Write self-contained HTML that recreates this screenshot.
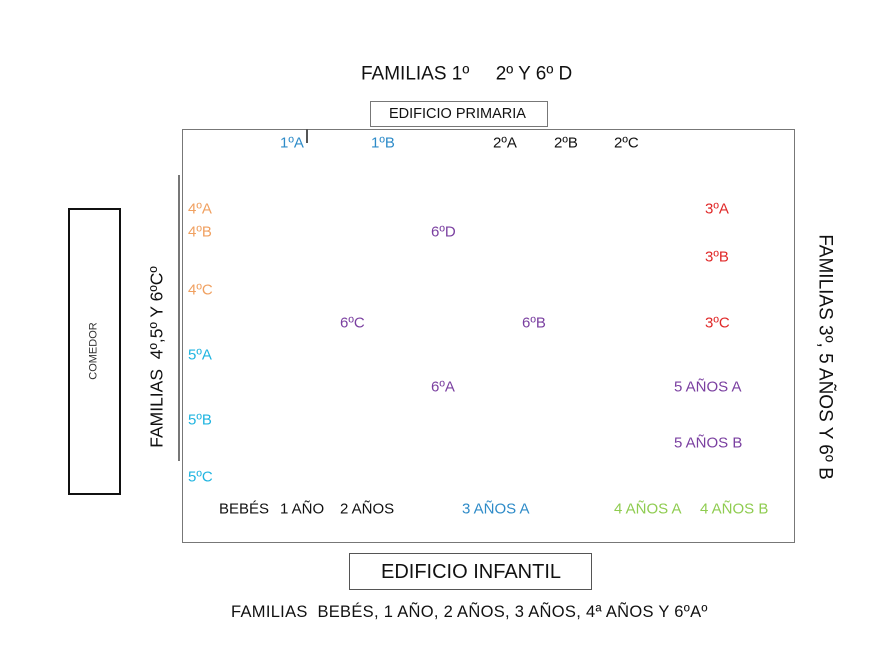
<!DOCTYPE html>
<html><head><meta charset="utf-8"><style>
body{margin:0;width:885px;height:646px;background:#fff;position:relative;overflow:hidden;font-family:"Liberation Sans",sans-serif;}
.t{position:absolute;font-size:15px;white-space:nowrap;transform:translateY(-50%);line-height:1;}
.box{position:absolute;box-sizing:border-box;}
.o{color:#f0a060}.b{color:#2e8bc8}.c{color:#1fb4e0}.p{color:#7a3fa0}.r{color:#e02828}.g{color:#8fcc50}.k{color:#111}
.rot{position:absolute;white-space:nowrap;line-height:1;}
</style></head><body>
<div class="t k" style="left:361px;top:74px;font-size:19px">FAMILIAS 1º&nbsp;&nbsp;&nbsp;&nbsp; 2º Y 6º D</div>
<div class="box" style="left:370px;top:101px;width:178px;height:26px;border:1.5px solid #777;"></div>
<div class="t k" style="left:389px;top:114px;font-size:14.5px">EDIFICIO PRIMARIA</div>
<div class="box" style="left:182px;top:129px;width:613px;height:414px;border:1.5px solid #777;"></div>
<div class="box" style="left:306px;top:129px;width:1.5px;height:14px;background:#555"></div>
<div class="box" style="left:178px;top:175px;width:1.5px;height:286px;background:#777"></div>
<div class="box" style="left:68px;top:208px;width:53px;height:287px;border:2px solid #111;"></div>
<div class="rot" style="left:94px;top:351px;font-size:11px;transform:translate(-50%,-50%) rotate(-90deg);color:#333">COMEDOR</div>
<div class="rot" style="left:157px;top:357px;font-size:17.5px;transform:translate(-50%,-50%) rotate(-90deg);color:#111">FAMILIAS&nbsp; 4º,5º Y 6ºCº</div>
<div class="rot" style="left:825px;top:357px;font-size:19px;transform:translate(-50%,-50%) rotate(90deg);color:#111">FAMILIAS 3º, 5 AÑOS Y 6º B</div>
<div class="box" style="left:349px;top:553px;width:243px;height:37px;border:1.5px solid #555;"></div>
<div class="t k" style="left:381px;top:572px;font-size:20px">EDIFICIO INFANTIL</div>
<div class="t k" style="left:231px;top:612px;font-size:16.5px;letter-spacing:0.3px">FAMILIAS&nbsp; BEBÉS, 1 AÑO, 2 AÑOS, 3 AÑOS, 4ª AÑOS Y 6ºAº</div>

<div class="t b" style="left:280px;top:143px">1ºA</div>
<div class="t b" style="left:371px;top:143px">1ºB</div>
<div class="t k" style="left:493px;top:143px">2ºA</div>
<div class="t k" style="left:554px;top:143px">2ºB</div>
<div class="t k" style="left:614px;top:143px">2ºC</div>
<div class="t o" style="left:188px;top:209px">4ºA</div>
<div class="t o" style="left:188px;top:232px">4ºB</div>
<div class="t o" style="left:188px;top:290px">4ºC</div>
<div class="t c" style="left:188px;top:355px">5ºA</div>
<div class="t c" style="left:188px;top:420px">5ºB</div>
<div class="t c" style="left:188px;top:477px">5ºC</div>
<div class="t p" style="left:431px;top:232px">6ºD</div>
<div class="t p" style="left:340px;top:323px">6ºC</div>
<div class="t p" style="left:522px;top:323px">6ºB</div>
<div class="t p" style="left:431px;top:387px">6ºA</div>
<div class="t r" style="left:705px;top:209px">3ºA</div>
<div class="t r" style="left:705px;top:257px">3ºB</div>
<div class="t r" style="left:705px;top:323px">3ºC</div>
<div class="t p" style="left:674px;top:387px">5 AÑOS A</div>
<div class="t p" style="left:674px;top:443px">5 AÑOS B</div>
<div class="t k" style="left:219px;top:509px">BEBÉS</div>
<div class="t k" style="left:280px;top:509px">1 AÑO</div>
<div class="t k" style="left:340px;top:509px">2 AÑOS</div>
<div class="t b" style="left:462px;top:509px">3 AÑOS A</div>
<div class="t g" style="left:614px;top:509px">4 AÑOS A</div>
<div class="t g" style="left:700px;top:509px">4 AÑOS B</div>
</body></html>
